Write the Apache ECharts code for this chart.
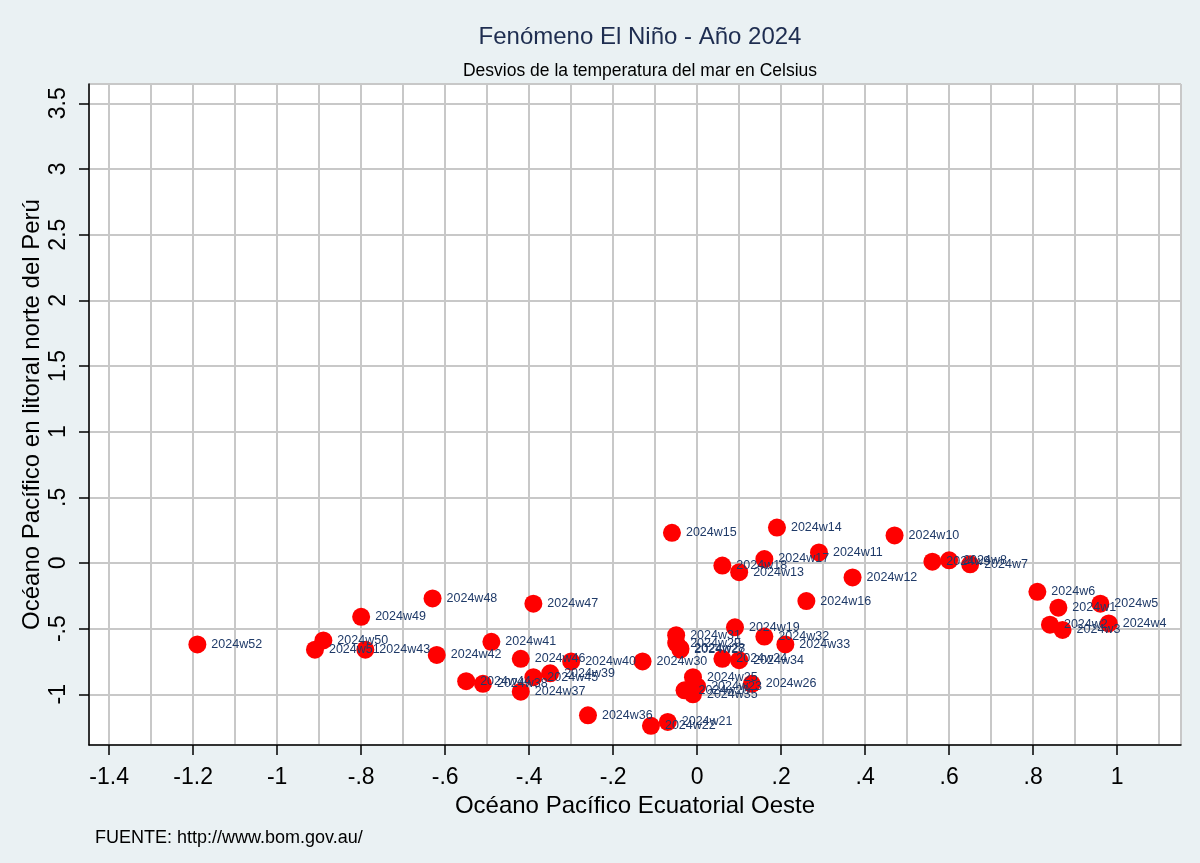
<!DOCTYPE html>
<html>
<head>
<meta charset="utf-8">
<title>Fenómeno El Niño - Año 2024</title>
<script src="https://cdn.jsdelivr.net/npm/echarts@6/dist/echarts.min.js"></script>
<style>
  html, body { margin: 0; padding: 0; background: #eaf1f3; }
  #main { width: 1200px; height: 863px; }
</style>
</head>
<body>
<div id="main"></div>
<script>
// semanas 2024 y desvios (Oeste, litoral Peru)
var weeks = ['2024w1', '2024w2', '2024w3', '2024w4', '2024w5', '2024w6', '2024w7', '2024w8', '2024w9', '2024w10',
    '2024w11', '2024w12', '2024w13', '2024w14', '2024w15', '2024w16', '2024w17', '2024w18', '2024w19', '2024w20',
    '2024w21', '2024w22', '2024w23', '2024w24', '2024w25', '2024w26', '2024w27', '2024w28', '2024w29', '2024w30',
    '2024w31', '2024w32', '2024w33', '2024w34', '2024w35', '2024w36', '2024w37', '2024w38', '2024w39', '2024w40',
    '2024w41', '2024w42', '2024w43', '2024w44', '2024w45', '2024w46', '2024w47', '2024w48', '2024w49', '2024w50',
    '2024w51', '2024w52'];
var oeste = [0.86, 0.84, 0.87, 0.98, 0.96, 0.81, 0.65, 0.60, 0.56, 0.47,
    0.29, 0.37, 0.10, 0.19, -0.06, 0.26, 0.16, 0.06, 0.09, -0.03,
    -0.07, -0.11, 0.00, 0.06, -0.01, 0.13, -0.04, -0.04, -0.05, -0.13,
    -0.05, 0.16, 0.21, 0.10, -0.01, -0.26, -0.42, -0.51, -0.35, -0.30,
    -0.49, -0.62, -0.79, -0.55, -0.39, -0.42, -0.39, -0.63, -0.80, -0.89,
    -0.91, -1.19];
var litoral = [-0.34, -0.47, -0.51, -0.46, -0.31, -0.22, -0.01, 0.02, 0.01, 0.21,
    0.08, -0.11, -0.07, 0.27, 0.23, -0.29, 0.03, -0.02, -0.49, -0.97,
    -1.21, -1.24, -0.94, -0.73, -0.87, -0.92, -0.66, -0.65, -0.61, -0.75,
    -0.55, -0.56, -0.62, -0.74, -1.00, -1.16, -0.98, -0.92, -0.84, -0.75,
    -0.60, -0.70, -0.66, -0.90, -0.87, -0.73, -0.31, -0.27, -0.41, -0.59,
    -0.66, -0.62];

var chart = echarts.init(document.getElementById('main'));

//  quitar el cero inicial: -0.5 -> -.5
function fmt(v) {
    var s = String(Math.round(v * 10) / 10);
    return s.replace(/^(-?)0\./, '$1.');
}

var puntos = [];
for (var i = 0; i < weeks.length; i++) {
    puntos.push([oeste[i], litoral[i], weeks[i]]);
}

var font = 'Liberation Sans, Arial, sans-serif';

var option = {
    backgroundColor: '#eaf1f3',
    textStyle: { fontFamily: font },
    title: [{
        text: 'Fenómeno El Niño - Año 2024',
        left: 635, top: 20, textAlign: 'center',
        textStyle: { fontSize: 24, fontWeight: 'normal', color: '#1e2d50', fontFamily: font }
    }, {
        text: 'Desvios de la temperatura del mar en Celsius',
        left: 635, top: 57, textAlign: 'center',
        textStyle: { fontSize: 17.5, fontWeight: 'normal', color: '#000', fontFamily: font }
    }, {
        text: 'FUENTE: http://www.bom.gov.au/',
        left: 90, top: 824,
        textStyle: { fontSize: 18, fontWeight: 'normal', color: '#000', fontFamily: font }
    }],
    grid: {
        left: 89, right: 19, top: 84, bottom: 118,
        show: true, backgroundColor: '#fff', borderWidth: 0
    },
    xAxis: {
        type: 'value',
        min: -1.448, max: 1.152,
        splitNumber: 13,
        name: 'Océano Pacífico Ecuatorial Oeste',
        nameLocation: 'middle',
        nameGap: 46,
        nameTextStyle: { fontSize: 24, color: '#000', fontFamily: font },
        axisLine: { show: true, onZero: false, lineStyle: { color: '#000', width: 1.5 } },
        axisTick: { show: true, length: 10, lineStyle: { color: '#000', width: 1.5 } },
        axisLabel: {
            show: true, margin: 21, fontSize: 23, color: '#000',
            showMinLabel: false, showMaxLabel: false,
            formatter: fmt
        },
        splitLine: { show: true, lineStyle: { color: '#c8c8c8', width: 2 } },
        minorTick: { show: false, splitNumber: 2 },
        minorSplitLine: { show: true, lineStyle: { color: '#c8c8c8', width: 2 } }
    },
    yAxis: {
        type: 'value',
        min: -1.386, max: 3.647,
        splitNumber: 10,
        name: 'Océano Pacífico en litoral norte del Perú',
        nameLocation: 'middle',
        nameGap: 45,
        nameMoveOverlap: false,
        nameTextStyle: { fontSize: 24, color: '#000', fontFamily: font },
        axisLine: { show: true, onZero: false, lineStyle: { color: '#000', width: 1.5 } },
        axisTick: { show: true, length: 10, lineStyle: { color: '#000', width: 1.5 } },
        axisLabel: {
            show: true, margin: 19, fontSize: 23, color: '#000', rotate: 90,
            showMinLabel: false, showMaxLabel: false,
            formatter: fmt
        },
        splitLine: { show: true, lineStyle: { color: '#c8c8c8', width: 2 } }
    },
    series: [{
        type: 'scatter',
        data: puntos,
        symbol: 'circle',
        symbolSize: 18,
        itemStyle: { color: '#ff0000', opacity: 1 },
        label: {
            show: true,
            position: 'right',
            distance: 5,
            fontSize: 12.5,
            color: '#1f3a68',
            fontFamily: font,
            formatter: function (p) { return p.data[2]; }
        },
        labelLayout: { hideOverlap: false },
        emphasis: { disabled: true },
        silent: true
    }]
};

chart.setOption(option);
</script>
</body>
</html>
